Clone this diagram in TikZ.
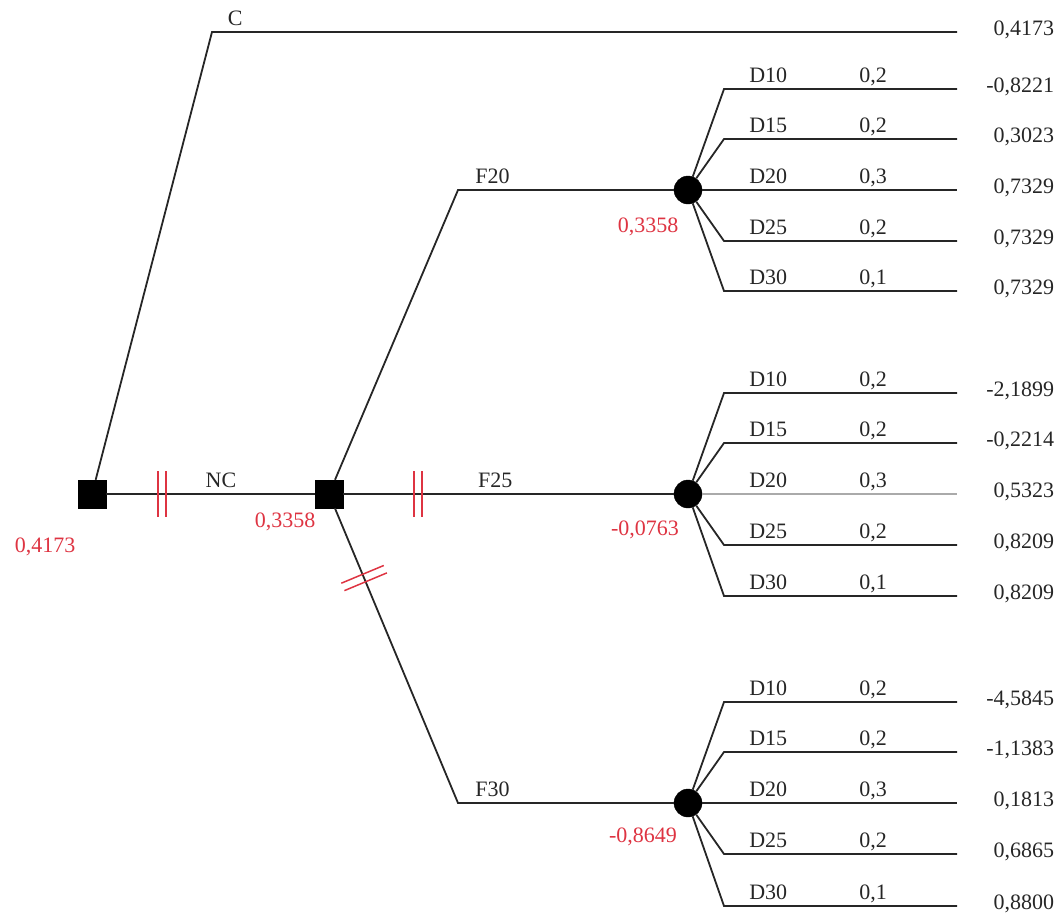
\documentclass[tikz,border=0pt]{standalone}
\usepackage{fontspec}
\setmainfont{Liberation Serif}
\usetikzlibrary{calc,positioning}
\definecolor{evred}{RGB}{222,52,66}
\definecolor{linegray}{RGB}{170,170,170}
\tikzset{
    decision/.style = {draw, fill=black, rectangle,
        minimum size=28pt, inner sep=0pt},
    chance/.style = {draw, fill=black, circle,
        minimum size=28pt, inner sep=0pt},
    branch/.style = {draw, line width=1.8pt, black!85},
    lbl/.style = {inner sep=0pt, text depth=0pt,
        font=\fontsize{22}{26}\selectfont, text=black!85},
    blabel/.style = {lbl, above=6pt},
    dlbl/.style = {blabel, pos=0.19},
    plbl/.style = {blabel, pos=0.64},
    payoff/.style = {lbl, anchor=east, xshift=98pt, yshift=4pt},
    ev/.style = {lbl, text=evred},
    cutmark/.style = {draw=evred, line width=1.5pt}
}

\begin{document}
\begin{tikzpicture}[x=1pt, y=-1pt]
    \useasboundingbox (0,0) rectangle (1064,913);
    % decision and chance nodes
    \node [decision] (root) at (92,494) {};
    \node [decision] (dec) at (329,494) {};
    \node [chance] (ch20) at (688,190) {};
    \node [chance] (ch25) at (688,494) {};
    \node [chance] (ch30) at (688,803) {};
    \node [ev] at ([shift={(-47,51)}]root) {0,4173};
    \node [ev] at ([shift={(-44,26)}]dec) {0,3358};
    \node [ev] at ([shift={(-40,35)}]ch20) {0,3358};
    \node [ev] at ([shift={(-43,34)}]ch25) {-0,0763};
    \node [ev] at ([shift={(-45,32)}]ch30) {-0,8649};
    % first decision
    \coordinate (cbend) at (212,32);
    \coordinate (cend) at (957,32);
    \draw [branch] (root) -- (cbend) -- node[blabel, pos=0.031] {C} (cend)
        node[payoff] {0,4173};
    \draw [branch] (root) -- node[blabel, pos=0.55] {NC} (dec);
    % second decision
    \coordinate (f20b) at (458,190);
    \coordinate (f30b) at (458,803);
    \draw [branch] (dec) -- (f20b) -- node[blabel, pos=0.16] {F20} (ch20);
    \draw [branch] (dec) -- node[blabel, pos=0.46] {F25} (ch25);
    \draw [branch] (dec) -- (f30b) -- node[blabel, pos=0.16] {F30} (ch30);
    % cut marks
    \coordinate (k1) at ($(root)!0.278!(dec)$);
    \coordinate (k2) at ($(root)!0.312!(dec)$);
    \coordinate (k3) at ($(dec)!0.237!(ch25)$);
    \coordinate (k4) at ($(dec)!0.259!(ch25)$);
    \coordinate (k5) at ($(dec)!0.26!(f30b)$);
    \coordinate (k6) at ($(dec)!0.284!(f30b)$);
    \draw [cutmark] ($(k1)!23pt!90:(dec)$) -- ($(k1)!23pt!-90:(dec)$);
    \draw [cutmark] ($(k2)!23pt!90:(dec)$) -- ($(k2)!23pt!-90:(dec)$);
    \draw [cutmark] ($(k3)!23pt!90:(ch25)$) -- ($(k3)!23pt!-90:(ch25)$);
    \draw [cutmark] ($(k4)!23pt!90:(ch25)$) -- ($(k4)!23pt!-90:(ch25)$);
    \draw [cutmark] ($(k5)!23pt!90:(f30b)$) -- ($(k5)!23pt!-90:(f30b)$);
    \draw [cutmark] ($(k6)!23pt!90:(f30b)$) -- ($(k6)!23pt!-90:(f30b)$);
    % outcomes after F20
    \coordinate (b20a) at (724,89);  \coordinate (e20a) at (957,89);
    \coordinate (b20b) at (724,139); \coordinate (e20b) at (957,139);
    \coordinate (b20c) at (724,190); \coordinate (e20c) at (957,190);
    \coordinate (b20d) at (724,241); \coordinate (e20d) at (957,241);
    \coordinate (b20e) at (724,291); \coordinate (e20e) at (957,291);
    \draw [branch] (ch20) -- (b20a) -- node[dlbl] {D10} node[plbl] {0,2} (e20a) node[payoff] {-0,8221};
    \draw [branch] (ch20) -- (b20b) -- node[dlbl] {D15} node[plbl] {0,2} (e20b) node[payoff] {0,3023};
    \draw [branch] (ch20) -- (b20c) -- node[dlbl] {D20} node[plbl] {0,3} (e20c) node[payoff] {0,7329};
    \draw [branch] (ch20) -- (b20d) -- node[dlbl] {D25} node[plbl] {0,2} (e20d) node[payoff] {0,7329};
    \draw [branch] (ch20) -- (b20e) -- node[dlbl] {D30} node[plbl] {0,1} (e20e) node[payoff] {0,7329};
    % outcomes after F25
    \coordinate (b25a) at (724,393); \coordinate (e25a) at (957,393);
    \coordinate (b25b) at (724,443); \coordinate (e25b) at (957,443);
    \coordinate (b25c) at (724,494); \coordinate (e25c) at (957,494);
    \coordinate (b25d) at (724,545); \coordinate (e25d) at (957,545);
    \coordinate (b25e) at (724,596); \coordinate (e25e) at (957,596);
    \draw [branch] (ch25) -- (b25a) -- node[dlbl] {D10} node[plbl] {0,2} (e25a) node[payoff] {-2,1899};
    \draw [branch] (ch25) -- (b25b) -- node[dlbl] {D15} node[plbl] {0,2} (e25b) node[payoff] {-0,2214};
    \draw [branch, draw=linegray] (ch25) -- (b25c) -- node[dlbl] {D20} node[plbl] {0,3} (e25c) node[payoff] {0,5323};
    \draw [branch] (ch25) -- (b25d) -- node[dlbl] {D25} node[plbl] {0,2} (e25d) node[payoff] {0,8209};
    \draw [branch] (ch25) -- (b25e) -- node[dlbl] {D30} node[plbl] {0,1} (e25e) node[payoff] {0,8209};
    % outcomes after F30
    \coordinate (b30a) at (724,702); \coordinate (e30a) at (957,702);
    \coordinate (b30b) at (724,752); \coordinate (e30b) at (957,752);
    \coordinate (b30c) at (724,803); \coordinate (e30c) at (957,803);
    \coordinate (b30d) at (724,854); \coordinate (e30d) at (957,854);
    \coordinate (b30e) at (724,906); \coordinate (e30e) at (957,906);
    \draw [branch] (ch30) -- (b30a) -- node[dlbl] {D10} node[plbl] {0,2} (e30a) node[payoff] {-4,5845};
    \draw [branch] (ch30) -- (b30b) -- node[dlbl] {D15} node[plbl] {0,2} (e30b) node[payoff] {-1,1383};
    \draw [branch] (ch30) -- (b30c) -- node[dlbl] {D20} node[plbl] {0,3} (e30c) node[payoff] {0,1813};
    \draw [branch] (ch30) -- (b30d) -- node[dlbl] {D25} node[plbl] {0,2} (e30d) node[payoff] {0,6865};
    \draw [branch] (ch30) -- (b30e) -- node[dlbl] {D30} node[plbl] {0,1} (e30e) node[payoff] {0,8800};
\end{tikzpicture}
\end{document}
